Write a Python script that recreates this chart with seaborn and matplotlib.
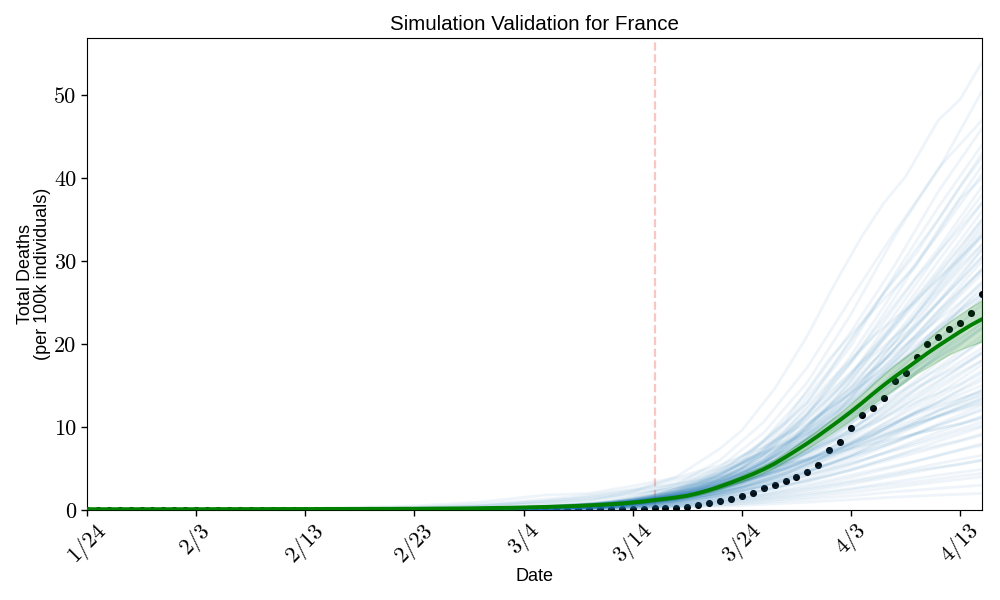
import pandas as pd
import seaborn as sns
import matplotlib.pyplot as plt

tick_days = [0, 10, 20, 30, 40, 50, 60, 70, 80]
tick_labels = ['1/24', '2/3', '2/13', '2/23', '3/4', '3/14', '3/24', '4/3', '4/13']
y_ticks = [0, 10, 20, 30, 40, 50]
intervention_day = 52

days = list(range(83))

# observed deaths, one per day
observed = [0, 0, 0, 0, 0, 0, 0, 0, 0, 0, 0, 0, 0, 0, 0, 0, 0, 0, 0, 0,
            0.01, 0.01, 0.01, 0.01, 0.01, 0.01, 0.01, 0.01, 0.01, 0.01, 0.01, 0.01, 0.01, 0.01, 0.01, 0.01,
            0.02, 0.02, 0.02, 0.03, 0.03, 0.03, 0.04, 0.05, 0.06, 0.07, 0.09, 0.11, 0.13, 0.14,
            0.15, 0.16, 0.19, 0.2, 0.22, 0.32, 0.64, 0.8, 1.04, 1.29, 1.65, 2.0, 2.6, 2.97, 3.45, 3.94,
            4.54, 5.38, 7.19, 8.15, 9.84, 11.4, 12.25, 13.45, 15.6, 16.5, 18.5, 20.0, 20.9, 21.8, 22.6, 23.8, 26.0]

# median of the simulations
median = [0.1, 0.1, 0.1, 0.1, 0.1, 0.1, 0.1, 0.1, 0.1, 0.1, 0.1, 0.1, 0.11, 0.11, 0.11, 0.11, 0.11, 0.12, 0.12, 0.12,
          0.12, 0.12, 0.13, 0.13, 0.13, 0.13, 0.14, 0.14, 0.14, 0.15, 0.15, 0.16, 0.17, 0.18, 0.19, 0.2, 0.22, 0.24, 0.26, 0.28,
          0.31, 0.34, 0.37, 0.41, 0.45, 0.5, 0.56, 0.62, 0.7, 0.78, 0.9, 1.03, 1.2, 1.35, 1.52, 1.72, 2.03, 2.4, 2.83, 3.3,
          3.8, 4.32, 4.92, 5.6, 6.38, 7.2, 8.05, 8.95, 9.9, 10.85, 11.85, 12.9, 14.0, 15.05, 16.05, 17.0, 17.95, 18.9, 19.8,
          20.65, 21.5, 22.3, 23.0]

band_low = [0.03] * 40 + [0.25, 0.28, 0.31, 0.34, 0.38, 0.43, 0.48, 0.54, 0.6, 0.68, 0.78, 0.9, 1.05, 1.2, 1.35, 1.55, 1.82, 2.15, 2.55, 3.0,
            3.45, 3.95, 4.5, 5.1, 5.85, 6.6, 7.4, 8.25, 9.1, 9.95, 10.85, 11.8, 12.75, 13.7, 14.6, 15.5, 16.45, 17.2, 18.0, 18.75, 19.35, 19.85, 20.3]
band_high = [0.1] * 14 + [0.28] * 26 + [0.36, 0.4, 0.44, 0.48, 0.53, 0.58, 0.64, 0.71, 0.8, 0.9, 1.02, 1.18, 1.36, 1.52, 1.72, 1.94, 2.26, 2.68, 3.15, 3.65,
             4.2, 4.75, 5.4, 6.1, 6.95, 7.85, 8.75, 9.7, 10.7, 11.75, 12.85, 14.0, 15.25, 16.4, 17.5, 18.5, 19.4, 20.6, 21.7, 22.7, 23.6, 24.5, 25.3]

# the highest run, read closely
top_days = [0, 30, 40, 46, 50, 54, 58, 60, 63, 66, 68, 69, 71, 73, 75, 78, 80, 82]
top_run = [0.03, 0.1, 0.4, 1.1, 2.2, 4.0, 7.4, 9.6, 14.6, 21.0, 26.0, 28.4, 33.0, 37.0, 40.2, 47.0, 49.5, 54.0]

# simulated runs, first group
run_days = [0, 30, 40, 46, 50, 54, 58, 62, 66, 70, 74, 78, 82]
runs_a = [
    [0.03, 0.1, 0.3, 0.8, 1.6, 3.1, 6.0, 10.6, 17.2, 25.5, 33.5, 41.0, 50.5],
    [0.02, 0.08, 0.3, 0.7, 1.4, 2.8, 5.2, 9.3, 15.4, 23.6, 33.0, 41.2, 47.0],
    [0.02, 0.08, 0.25, 0.6, 1.2, 2.4, 4.5, 8.4, 14.2, 21.5, 29.5, 38.4, 46.0],
    [0.03, 0.09, 0.28, 0.7, 1.3, 2.5, 4.9, 8.1, 13.0, 19.8, 28.4, 36.5, 44.0],
    [0.02, 0.07, 0.2, 0.5, 1.0, 2.1, 4.2, 7.6, 13.0, 20.4, 28.0, 35.0, 43.0],
    [0.02, 0.08, 0.26, 0.65, 1.2, 2.3, 4.2, 7.1, 11.5, 17.8, 25.6, 33.8, 41.5],
    [0.01, 0.06, 0.2, 0.5, 1.0, 1.9, 3.6, 6.6, 11.6, 18.6, 26.5, 33.2, 40.5],
    [0.02, 0.07, 0.24, 0.6, 1.1, 2.2, 4.0, 7.2, 12.2, 18.0, 24.8, 31.5, 39.0],
    [0.02, 0.06, 0.18, 0.45, 0.9, 1.8, 3.4, 6.0, 10.2, 16.3, 23.6, 31.0, 38.0],
    [0.02, 0.07, 0.22, 0.55, 1.0, 2.0, 3.7, 6.7, 10.9, 16.2, 22.8, 30.0, 37.0],
    [0.01, 0.05, 0.16, 0.4, 0.8, 1.6, 3.1, 5.6, 9.8, 15.6, 22.5, 29.0, 36.0],
    [0.02, 0.07, 0.24, 0.6, 1.2, 2.3, 4.1, 7.0, 11.3, 16.5, 22.4, 28.6, 35.0],
    [0.02, 0.06, 0.2, 0.5, 0.95, 1.8, 3.3, 5.8, 9.6, 14.6, 21.0, 27.5, 34.5],
    [0.01, 0.05, 0.16, 0.42, 0.85, 1.7, 3.2, 5.7, 9.2, 14.0, 20.2, 27.0, 33.5],
    [0.02, 0.06, 0.2, 0.55, 1.05, 2.0, 3.5, 6.0, 9.9, 14.8, 20.8, 26.6, 33.0],
    [0.02, 0.06, 0.18, 0.46, 0.9, 1.7, 3.2, 5.6, 9.0, 13.4, 19.5, 26.0, 32.0],
    [0.01, 0.05, 0.15, 0.38, 0.75, 1.5, 2.9, 5.2, 8.8, 13.6, 19.4, 25.2, 31.5],
    [0.02, 0.07, 0.22, 0.58, 1.1, 2.1, 3.7, 6.2, 9.7, 14.2, 19.4, 25.0, 30.5],
    [0.02, 0.05, 0.17, 0.43, 0.85, 1.6, 3.0, 5.2, 8.4, 12.6, 18.2, 24.0, 30.0],
    [0.01, 0.05, 0.14, 0.36, 0.7, 1.4, 2.6, 4.7, 7.8, 12.2, 17.8, 23.4, 29.0],
    [0.02, 0.06, 0.2, 0.5, 1.0, 1.9, 3.4, 5.7, 9.0, 13.1, 17.9, 23.2, 28.5],
    [0.02, 0.05, 0.16, 0.42, 0.8, 1.5, 2.8, 4.8, 7.8, 11.8, 16.8, 22.2, 27.5],
    [0.01, 0.04, 0.13, 0.34, 0.68, 1.3, 2.5, 4.4, 7.4, 11.5, 16.4, 21.4, 27.0],
    [0.02, 0.07, 0.24, 0.6, 1.15, 2.2, 3.8, 6.2, 9.3, 13.0, 17.4, 22.0, 26.5],
    [0.02, 0.05, 0.16, 0.4, 0.78, 1.5, 2.7, 4.6, 7.4, 11.0, 15.7, 20.6, 25.5],
    [0.01, 0.04, 0.12, 0.32, 0.65, 1.25, 2.4, 4.2, 7.0, 10.8, 15.2, 20.0, 25.0],
    [0.02, 0.06, 0.18, 0.46, 0.92, 1.75, 3.1, 5.1, 7.9, 11.3, 15.4, 19.6, 24.0],
    [0.02, 0.05, 0.15, 0.38, 0.74, 1.4, 2.6, 4.4, 7.0, 10.4, 14.4, 18.8, 23.5],
    [0.02, 0.06, 0.2, 0.52, 1.0, 1.9, 3.3, 5.2, 7.8, 11.0, 14.7, 18.6, 22.5],
    [0.01, 0.04, 0.13, 0.34, 0.66, 1.3, 2.4, 4.1, 6.4, 9.6, 13.6, 17.8, 22.0],
    [0.02, 0.05, 0.16, 0.42, 0.8, 1.5, 2.7, 4.4, 6.8, 9.7, 13.4, 17.2, 21.0],
    [0.01, 0.04, 0.12, 0.3, 0.6, 1.15, 2.1, 3.7, 5.9, 8.9, 12.6, 16.6, 20.5],
    [0.02, 0.06, 0.19, 0.48, 0.95, 1.75, 3.0, 4.7, 6.9, 9.6, 12.8, 16.2, 19.5],
    [0.02, 0.05, 0.14, 0.36, 0.72, 1.35, 2.4, 3.9, 6.0, 8.7, 11.9, 15.4, 19.0],
    [0.01, 0.04, 0.11, 0.28, 0.56, 1.1, 2.0, 3.4, 5.4, 8.0, 11.2, 14.6, 18.0],
    [0.02, 0.06, 0.18, 0.45, 0.88, 1.6, 2.7, 4.2, 6.1, 8.4, 11.0, 14.0, 17.5],
    [0.01, 0.04, 0.13, 0.32, 0.62, 1.15, 2.0, 3.3, 5.1, 7.5, 10.4, 13.6, 16.5],
    [0.02, 0.05, 0.16, 0.4, 0.78, 1.4, 2.4, 3.8, 5.6, 7.8, 10.4, 13.0, 16.0],
    [0.02, 0.05, 0.17, 0.42, 0.82, 1.5, 2.6, 4.1, 6.0, 8.2, 10.6, 12.9, 15.0],
    [0.01, 0.04, 0.11, 0.27, 0.54, 1.0, 1.8, 3.0, 4.6, 6.6, 9.2, 12.0, 14.5],
    [0.02, 0.05, 0.15, 0.38, 0.75, 1.35, 2.3, 3.6, 5.3, 7.3, 9.6, 11.9, 14.0],
    [0.02, 0.06, 0.2, 0.5, 0.98, 1.7, 2.8, 4.2, 6.0, 8.0, 10.0, 12.0, 13.8],
    [0.01, 0.03, 0.1, 0.25, 0.5, 0.95, 1.7, 2.9, 4.5, 6.5, 8.9, 11.3, 13.5],
    [0.02, 0.05, 0.14, 0.35, 0.68, 1.25, 2.1, 3.4, 5.0, 7.0, 9.2, 11.3, 13.2],
    [0.01, 0.04, 0.12, 0.3, 0.58, 1.05, 1.8, 2.9, 4.3, 6.0, 8.1, 10.4, 12.6],
    [0.02, 0.05, 0.15, 0.36, 0.7, 1.25, 2.1, 3.2, 4.7, 6.4, 8.2, 10.2, 12.0],
    [0.01, 0.03, 0.09, 0.22, 0.44, 0.82, 1.45, 2.4, 3.7, 5.4, 7.4, 9.4, 11.2],
    [0.02, 0.04, 0.13, 0.32, 0.62, 1.1, 1.8, 2.8, 4.1, 5.6, 7.3, 9.0, 10.6],
    [0.01, 0.03, 0.1, 0.24, 0.47, 0.85, 1.45, 2.3, 3.4, 4.8, 6.5, 8.3, 10.0],
    [0.01, 0.04, 0.11, 0.27, 0.52, 0.92, 1.5, 2.4, 3.5, 4.8, 6.2, 7.6, 9.0],
    [0.01, 0.03, 0.08, 0.2, 0.38, 0.68, 1.15, 1.85, 2.8, 3.9, 5.2, 6.6, 8.0],
    [0.01, 0.03, 0.09, 0.22, 0.42, 0.72, 1.15, 1.8, 2.6, 3.5, 4.5, 5.6, 6.6],
    [0.01, 0.02, 0.06, 0.15, 0.3, 0.55, 0.95, 1.5, 2.2, 3.1, 4.1, 5.1, 6.0],
    [0.01, 0.02, 0.07, 0.17, 0.32, 0.55, 0.9, 1.35, 1.95, 2.6, 3.4, 4.2, 4.9],
    [0.01, 0.02, 0.05, 0.12, 0.23, 0.4, 0.66, 1.05, 1.55, 2.1, 2.75, 3.4, 4.0],
    [0.01, 0.02, 0.05, 0.12, 0.22, 0.38, 0.6, 0.9, 1.3, 1.7, 2.2, 2.6, 3.0],
    [0.0, 0.01, 0.04, 0.08, 0.16, 0.27, 0.44, 0.68, 0.95, 1.25, 1.55, 1.8, 2.0],
]

# second group, read at days between those of the first
run_days_b = [0, 32, 42, 48, 52, 56, 60, 64, 68, 72, 76, 80, 82]
runs_b = [
    [0.02, 0.09, 0.35, 0.9, 1.7, 3.4, 6.2, 10.5, 16.8, 24.5, 31.0, 39.0, 42.5],
    [0.03, 0.1, 0.33, 0.85, 1.5, 2.9, 5.8, 10.8, 18.2, 24.0, 29.5, 37.5, 40.0],
    [0.02, 0.07, 0.24, 0.6, 1.1, 2.4, 5.0, 9.6, 15.5, 20.8, 28.0, 34.0, 37.0],
    [0.02, 0.08, 0.3, 0.8, 1.5, 2.7, 5.0, 8.4, 14.6, 20.9, 25.2, 31.5, 35.0],
    [0.02, 0.1, 0.38, 0.95, 1.8, 3.3, 5.6, 9.3, 14.2, 19.0, 25.4, 30.2, 33.2],
    [0.01, 0.06, 0.2, 0.55, 1.0, 2.0, 4.0, 7.4, 12.6, 18.6, 23.2, 29.4, 32.0],
    [0.02, 0.09, 0.32, 0.8, 1.45, 2.8, 5.0, 8.0, 12.4, 17.9, 22.4, 27.6, 30.5],
    [0.02, 0.07, 0.26, 0.7, 1.25, 2.4, 4.4, 7.7, 12.6, 16.9, 21.0, 26.4, 29.0],
    [0.03, 0.11, 0.4, 1.0, 1.85, 3.2, 5.3, 8.4, 12.2, 16.1, 20.9, 25.0, 27.4],
    [0.01, 0.06, 0.22, 0.6, 1.05, 2.1, 3.9, 6.6, 10.8, 15.6, 19.4, 24.0, 26.0],
    [0.02, 0.08, 0.3, 0.75, 1.35, 2.5, 4.2, 7.0, 10.2, 14.2, 18.8, 22.4, 24.6],
    [0.02, 0.06, 0.22, 0.58, 1.1, 2.1, 3.6, 6.1, 9.9, 13.6, 17.2, 21.4, 23.2],
    [0.03, 0.1, 0.36, 0.9, 1.6, 2.8, 4.6, 7.1, 10.0, 13.0, 16.7, 20.0, 21.8],
    [0.01, 0.06, 0.2, 0.52, 0.95, 1.85, 3.3, 5.4, 8.5, 12.3, 15.4, 18.6, 20.4],
    [0.02, 0.08, 0.28, 0.72, 1.3, 2.3, 3.8, 6.0, 8.4, 11.4, 14.8, 17.4, 19.0],
    [0.02, 0.07, 0.24, 0.62, 1.15, 2.05, 3.3, 5.4, 8.0, 10.6, 13.4, 16.6, 18.0],
    [0.02, 0.09, 0.32, 0.8, 1.4, 2.4, 3.9, 5.8, 8.2, 10.4, 13.0, 15.2, 16.8],
    [0.01, 0.05, 0.18, 0.46, 0.85, 1.6, 2.7, 4.4, 6.7, 9.4, 11.8, 14.4, 15.6],
    [0.02, 0.08, 0.26, 0.66, 1.2, 2.1, 3.4, 5.0, 7.0, 9.2, 11.5, 13.3, 14.4],
    [0.02, 0.06, 0.22, 0.55, 1.0, 1.75, 2.9, 4.5, 6.5, 8.4, 10.3, 12.5, 13.4],
    [0.03, 0.09, 0.3, 0.74, 1.3, 2.2, 3.4, 4.9, 6.6, 8.5, 10.5, 12.0, 12.8],
    [0.01, 0.05, 0.16, 0.4, 0.75, 1.35, 2.3, 3.7, 5.6, 7.6, 9.3, 11.1, 12.2],
    [0.02, 0.07, 0.22, 0.54, 0.95, 1.65, 2.7, 4.0, 5.5, 7.3, 9.2, 10.4, 11.3],
    [0.02, 0.06, 0.18, 0.46, 0.82, 1.45, 2.3, 3.4, 4.9, 6.4, 7.9, 9.5, 10.2],
    [0.01, 0.05, 0.15, 0.38, 0.68, 1.2, 1.95, 3.0, 4.2, 5.7, 7.2, 8.4, 9.2],
    [0.01, 0.04, 0.12, 0.3, 0.56, 0.98, 1.6, 2.5, 3.6, 4.8, 5.9, 7.2, 7.8],
    [0.01, 0.04, 0.11, 0.26, 0.48, 0.82, 1.3, 2.0, 2.9, 3.8, 4.8, 5.5, 6.0],
    [0.01, 0.03, 0.08, 0.2, 0.37, 0.62, 1.0, 1.5, 2.1, 2.8, 3.4, 4.1, 4.4],
    [0.02, 0.1, 0.36, 0.88, 1.5, 2.7, 4.4, 7.2, 11.6, 17.0, 23.6, 30.6, 34.0],
    [0.02, 0.09, 0.28, 0.7, 1.3, 2.3, 3.9, 6.5, 10.6, 16.8, 22.0, 28.0, 31.4],
    [0.03, 0.1, 0.34, 0.82, 1.4, 2.5, 4.3, 6.8, 10.6, 15.0, 19.4, 23.6, 25.6],
    [0.02, 0.08, 0.3, 0.72, 1.25, 2.2, 3.7, 5.9, 8.8, 12.4, 16.6, 20.2, 22.0],
    [0.02, 0.07, 0.25, 0.62, 1.1, 1.95, 3.2, 5.0, 7.5, 10.8, 14.0, 17.2, 18.8],
    [0.01, 0.06, 0.2, 0.5, 0.9, 1.6, 2.7, 4.4, 6.8, 9.0, 11.8, 13.5, 14.2],
]

# runs that lift off early
run_days_c = [0, 20, 30, 36, 42, 46, 50, 54, 58, 62, 66, 70, 74, 78, 82]
runs_c = [
    [0.03, 0.15, 0.5, 0.95, 1.8, 2.0, 2.9, 3.9, 5.4, 7.6, 10.5, 14.0, 18.0, 22.0, 26.0],
    [0.03, 0.1, 0.35, 0.7, 1.3, 1.8, 2.5, 3.6, 5.0, 6.9, 9.2, 12.0, 15.5, 19.0, 22.5],
    [0.02, 0.08, 0.25, 0.55, 1.05, 1.5, 2.2, 3.2, 4.6, 6.6, 9.6, 13.5, 18.5, 24.0, 29.0],
    [0.02, 0.06, 0.2, 0.45, 0.9, 1.35, 2.0, 2.7, 3.6, 4.8, 6.2, 7.8, 9.6, 11.4, 13.0],
    [0.02, 0.08, 0.22, 0.5, 1.1, 1.6, 2.4, 3.1, 4.0, 5.0, 6.1, 7.4, 8.6, 9.8, 11.0],
    [0.01, 0.05, 0.18, 0.4, 0.8, 1.2, 1.8, 2.8, 4.4, 7.0, 11.0, 16.0, 22.0, 28.0, 33.0],
]

sns.set_style("ticks")
plt.rcParams['font.family'] = ['Liberation Sans', 'DejaVu Sans']
plt.rcParams['text.color'] = 'black'
plt.rcParams['axes.labelcolor'] = 'black'
plt.rcParams['axes.edgecolor'] = 'black'
plt.rcParams['xtick.color'] = 'black'
plt.rcParams['ytick.color'] = 'black'

rows = []
for d, v in zip(top_days, top_run):
    rows.append((0, d, v))
for i, run in enumerate(runs_a):
    for d, v in zip(run_days, run):
        rows.append((i + 1, d, v))
for i, run in enumerate(runs_b):
    for d, v in zip(run_days_b, run):
        rows.append((i + 100, d, v))
for i, run in enumerate(runs_c):
    for d, v in zip(run_days_c, run):
        rows.append((i + 200, d, v))
df_runs = pd.DataFrame(rows, columns=['run', 'day', 'deaths'])
df_obs = pd.DataFrame({'day': days, 'deaths': observed})
df_med = pd.DataFrame({'day': days, 'deaths': median})

fig, ax = plt.subplots(figsize=(10, 6), dpi=100)

sns.scatterplot(data=df_obs, x='day', y='deaths', color='black', s=26, linewidth=0, ax=ax, zorder=2)
sns.lineplot(data=df_runs, x='day', y='deaths', units='run', estimator=None, color='#1f77b4',
             alpha=0.075, linewidth=2, ax=ax, zorder=3)
ax.fill_between(days, band_low, band_high, color='green', alpha=0.2, zorder=4)
sns.lineplot(data=df_med, x='day', y='deaths', color='green', linewidth=2.8, ax=ax, zorder=5)
ax.axvline(intervention_day, color='#e8392a', alpha=0.28, linestyle='--', linewidth=1.6, zorder=1)

ax.set_xlim(0, 82)
ax.set_ylim(0, 56.9)
ax.set_xticks(tick_days)
ax.set_xticklabels(tick_labels, rotation=45, fontfamily='cmr10', fontsize=16)
ax.set_yticks(y_ticks)
ax.set_yticklabels([str(v) for v in y_ticks], fontfamily='cmr10', fontsize=16)
ax.tick_params(length=4, width=1, colors='black')
ax.tick_params(axis='x', pad=3)
ax.set_xlabel('Date', fontsize=13, labelpad=0.5)
ax.set_ylabel('Total Deaths\n(per 100k individuals)', fontsize=13, linespacing=1.0, labelpad=2.5)
ax.set_title('Simulation Validation for France', fontsize=14.8)

fig.subplots_adjust(left=0.087, right=0.982, top=0.9367, bottom=0.15)
fig.savefig('out.png', dpi=100)
